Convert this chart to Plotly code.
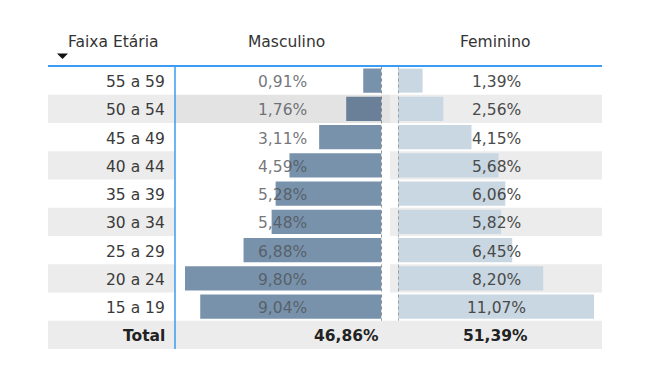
import plotly.graph_objects as go

# ---------------- data ----------------
ages = ["55 a 59", "50 a 54", "45 a 49", "40 a 44", "35 a 39",
        "30 a 34", "25 a 29", "20 a 24", "15 a 19"]
masc = [0.91, 1.76, 3.11, 4.59, 5.28, 5.48, 6.88, 9.80, 9.04]
fem = [1.39, 2.56, 4.15, 5.68, 6.06, 5.82, 6.45, 8.20, 11.07]
total_label = "Total"
masc_total = 46.86
fem_total = 51.39
headers = ["Faixa Etária", "Masculino", "Feminino"]
hover_row = "50 a 54"


def pct(v):
    return f"{v:.2f}".replace(".", ",") + "%"


# ---------------- geometry / style ----------------
OFF = 8                      # page body margin
W, H = 634, 364              # figure size (fits window inside the body margin)
TOP, ROW = 66.5, 28.25       # first row top, row height (page px)
C0, C1, C2, C3 = 48, 175, 390, 602   # column edges (page px)
MASC_LEFT, MASC_AXIS = 185, 381.5
FEM_AXIS, FEM_RIGHT = 398, 594
FONT = "DejaVu Sans"
FS = 15.5
YS = -1.5                    # small vertical nudge of cell text
STRIPE = "#ececec"
HOVER_BG = "#e3e3e3"
MASC_COL = "#7892ab"
MASC_HOVER = "#6a8098"
FEM_COL = "#c9d7e2"
BLUE = "#3a9cf2"

rows = ages + [total_label]
striped = [rows[i] for i in range(1, len(ages), 2)] + [total_label]
y_top = (OFF - TOP) / ROW - 0.5
y_bot = (OFF + H - TOP) / ROW - 0.5


def px(x):
    return (x - OFF) / W


def py(y):
    return 1 - (y - OFF) / H


fig = go.Figure()

# backgrounds (cells)
fig.add_trace(go.Bar(x=[1] * len(striped), y=striped, orientation="h", xaxis="x",
                     width=1, marker=dict(color=STRIPE, line_width=0), hoverinfo="skip"))
fig.add_trace(go.Bar(x=[1, 1], y=[hover_row, total_label], orientation="h", xaxis="x2",
                     width=1, marker=dict(color=[HOVER_BG, STRIPE], line_width=0), hoverinfo="skip"))
fig.add_trace(go.Bar(x=[1] * len(striped), y=striped, orientation="h", xaxis="x3",
                     width=1, marker=dict(color=STRIPE, line_width=0), hoverinfo="skip"))

# data bars
fig.add_trace(go.Bar(x=masc, y=ages, orientation="h", xaxis="x4", width=0.85,
                     marker=dict(color=[MASC_HOVER if a == hover_row else MASC_COL for a in ages],
                                 line_width=0), hoverinfo="skip"))
fig.add_trace(go.Bar(x=fem, y=ages, orientation="h", xaxis="x5", width=0.85,
                     marker=dict(color=FEM_COL, line_width=0), hoverinfo="skip"))

ax = dict(visible=False, fixedrange=True, anchor="y")
fig.update_layout(
    width=W, height=H, autosize=False,
    margin=dict(l=0, r=0, t=0, b=0),
    paper_bgcolor="white", plot_bgcolor="rgba(0,0,0,0)",
    showlegend=False, barmode="overlay",
    xaxis=dict(domain=[px(C0), px(C1)], range=[0, 1], **ax),
    xaxis2=dict(domain=[px(C1), px(C2)], range=[0, 1], **ax),
    xaxis3=dict(domain=[px(C2), px(C3)], range=[0, 1], **ax),
    xaxis4=dict(domain=[px(MASC_LEFT), px(MASC_AXIS)], range=[max(masc), 0], **ax),
    xaxis5=dict(domain=[px(FEM_AXIS), px(FEM_RIGHT)], range=[0, max(fem)], **ax),
    yaxis=dict(type="category", categoryarray=rows, range=[y_bot, y_top],
               visible=False, fixedrange=True, domain=[0, 1]),
)

shapes = []
# dotted zero lines of data bars
shapes.append(dict(type="line", xref="x4", yref="y", x0=0, x1=0, y0=-0.5, y1=len(ages) - 0.5,
                   line=dict(color="#333333", width=1, dash="dot")))
shapes.append(dict(type="line", xref="x5", yref="y", x0=0, x1=0, y0=-0.5, y1=len(ages) - 0.5,
                   line=dict(color="#666666", width=1, dash="dot")))
# header underline and column divider
shapes.append(dict(type="line", xref="paper", yref="paper", x0=px(C0), x1=px(C3),
                   y0=py(66), y1=py(66), line=dict(color=BLUE, width=2)))
shapes.append(dict(type="line", xref="paper", yref="paper", x0=px(C1), x1=px(C1),
                   y0=py(66), y1=py(349), line=dict(color=BLUE, width=1.5)))
# sort arrow
shapes.append(dict(type="path", xref="paper", yref="paper",
                   path=f"M {px(57)} {py(53.5)} L {px(68)} {py(53.5)} L {px(62.5)} {py(59)} Z",
                   fillcolor="#111111", line=dict(width=0)))
fig.update_layout(shapes=shapes)

ann = []
hy = py(42)
ann.append(dict(text=headers[0], x=px(66), xanchor="left", y=hy, yanchor="middle",
                font=dict(family=FONT, size=FS, color="#333333")))
ann.append(dict(text=headers[1], x=px(286), xanchor="center", y=hy, yanchor="middle",
                font=dict(family=FONT, size=FS, color="#333333")))
ann.append(dict(text=headers[2], x=px(495), xanchor="center", y=hy, yanchor="middle",
                font=dict(family=FONT, size=FS, color="#333333")))
for a, m, f in zip(ages, masc, fem):
    ann.append(dict(text=a, x=px(167), xanchor="right", y=a, yref="y", yanchor="middle",
                    yshift=YS, font=dict(family=FONT, size=FS, color="#3a3a3a")))
    ann.append(dict(text=pct(m), x=px(282.5), xanchor="center", y=a, yref="y", yanchor="middle",
                    yshift=YS, font=dict(family=FONT, size=FS, color="rgba(80,82,88,0.8)")))
    ann.append(dict(text=pct(f), x=px(496), xanchor="center", y=a, yref="y", yanchor="middle",
                    yshift=YS, font=dict(family=FONT, size=FS, color="#4a4a4a")))
ann.append(dict(text=f"<b>{total_label}</b>", x=px(167), xanchor="right", y=total_label, yref="y",
                yanchor="middle", yshift=YS, font=dict(family=FONT, size=FS, color="#222222")))
ann.append(dict(text=f"<b>{pct(masc_total)}</b>", x=px(381), xanchor="right", y=total_label, yref="y",
                yanchor="middle", yshift=YS, font=dict(family=FONT, size=FS, color="#222222")))
ann.append(dict(text=f"<b>{pct(fem_total)}</b>", x=px(495), xanchor="center", y=total_label, yref="y",
                yanchor="middle", yshift=YS, font=dict(family=FONT, size=FS, color="#222222")))
for d in ann:
    d.setdefault("xref", "paper")
    d.setdefault("yref", "paper")
    d["showarrow"] = False
fig.update_layout(annotations=ann)

fig.write_html("out.html")
